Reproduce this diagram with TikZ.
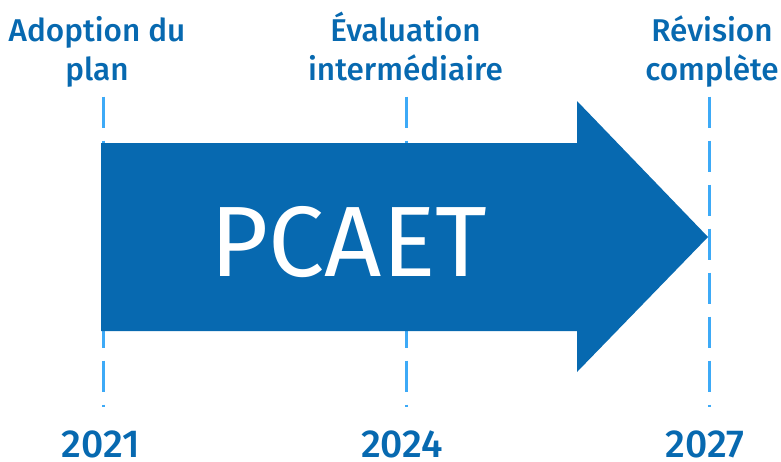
\documentclass[tikz,border=0pt]{standalone}
\usepackage{fontspec}
\setmainfont{Fira Sans}[BoldFont={Fira Sans Medium}]
\usepackage{tikz}
\usetikzlibrary{positioning}

\definecolor{pcaetblue}{HTML}{0769B0}
\definecolor{tickblue}{HTML}{3DAAF7}

\begin{document}
\begin{tikzpicture}[x=1pt, y=-1pt, every node/.style = {align=center, text=pcaetblue, inner sep=0pt},
    milestone/.style = {draw=tickblue, line width=3pt, dash pattern=on 31.7pt off 12.3pt},
    stage/.style = {font=\bfseries\fontsize{31.5}{38.5}\selectfont, anchor=base},
    year/.style = {font=\bfseries\fontsize{39}{39}\selectfont, anchor=base}]
  \useasboundingbox (0,0) rectangle (781,461);
  % time markers
  \coordinate (top1) at (103,96.7); \coordinate (bot1) at (103,407);
  \coordinate (top2) at (406,96.7); \coordinate (bot2) at (406,407);
  \coordinate (top3) at (709,96.7); \coordinate (bot3) at (709,407);
  \draw[milestone] (top1) -- (bot1);
  \draw[milestone] (top2) -- (bot2);
  \draw[milestone] (top3) -- (bot3);
  % arrow
  \fill[pcaetblue] (101,143) -- (577,143) -- (577,101) -- (708,237)
    -- (577,372) -- (577,331) -- (101,331) -- cycle;
  \node[text=white, font=\fontsize{100}{100}\selectfont] (pcaet) at (349,242.5) {PCAET};
  % stages
  \node[stage] (adoption) at (97,80) {Adoption du\\plan};
  \node[stage] (evaluation) at (405.5,80) {Évaluation\\intermédiaire};
  \node[stage] (revision) at (712,80) {Révision\\complète};
  % years
  \node[year] (y2021) at (101,457) {2021};
  \node[year] (y2024) at (402,457) {2024};
  \node[year] (y2027) at (705,457) {2027};
\end{tikzpicture}
\end{document}
